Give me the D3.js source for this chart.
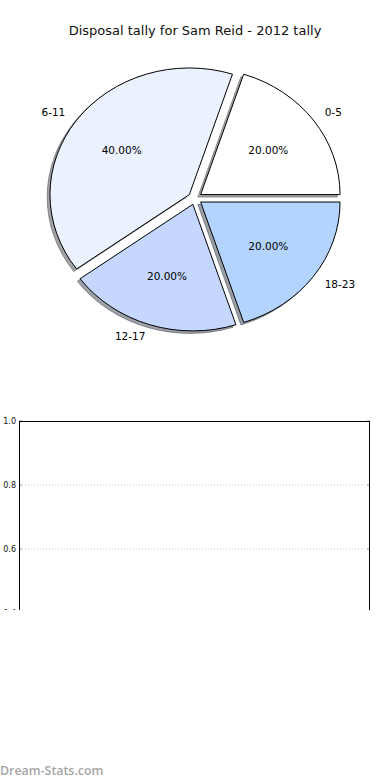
<!DOCTYPE html>
<html><head><meta charset="utf-8">
<script src="https://cdn.jsdelivr.net/npm/d3@7"></script>
<style>
html,body{margin:0;padding:0;background:#fff;}
svg{display:block;font-family:"DejaVu Sans",sans-serif;}
</style></head>
<body><svg id="c" width="390" height="780"></svg>
<script>
const title = "Disposal tally for Sam Reid - 2012 tally";
const categories = ["0-5", "6-11", "12-17", "18-23"];
const values = [20, 40, 20, 20];
const colors = ["#ffffff", "#ebf1ff", "#c6d7ff", "#b3d4ff"];
const yTicks = [0.4, 0.6, 0.8, 1.0];
const watermark = "Dream-Stats.com";

const svg = d3.select("#c");
const W = 390;

svg.append("text").attr("x", 195).attr("y", 35).attr("text-anchor", "middle")
  .attr("font-size", 13).attr("fill", "#111").text(title);

// pie (elliptical, matplotlib-like)
const cx = 195, cy = 198.3, rx = 139.4, ry = 126.6, explode = 0.05;
const pie = d3.pie().sort(null).value(d => d).startAngle(Math.PI / 2).endAngle(Math.PI / 2 - 2 * Math.PI);
const arcs = pie(values);
const arcGen = d3.arc().innerRadius(0).outerRadius(rx);
const total = d3.sum(values);

const g = svg.append("g");
function mplMid(a) { // d3 angle -> matplotlib angle
  const m = (a.startAngle + a.endAngle) / 2;
  return Math.PI / 2 - m;
}
const sx = 1, sy = ry / rx;

arcs.forEach((a, i) => {
  const m = mplMid(a);
  const ox = cx + explode * rx * Math.cos(m);
  const oy = cy - explode * ry * Math.sin(m);
  const c = d3.color(colors[i]);
  const sh = d3.rgb(c.r * 0.3, c.g * 0.3, c.b * 0.3);
  g.append("path").attr("d", arcGen(a))
    .attr("transform", `translate(${ox - 2.8},${oy + 2.5}) scale(${sx},${sy})`)
    .attr("fill", sh).attr("fill-opacity", 0.5)
    .attr("stroke", sh).attr("stroke-opacity", 0.5).attr("stroke-width", 1)
    .attr("vector-effect", "non-scaling-stroke");
});
arcs.forEach((a, i) => {
  const m = mplMid(a);
  const ox = cx + explode * rx * Math.cos(m);
  const oy = cy - explode * ry * Math.sin(m);
  g.append("path").attr("d", arcGen(a))
    .attr("transform", `translate(${ox},${oy}) scale(${sx},${sy})`)
    .attr("fill", colors[i]).attr("stroke", "#000").attr("stroke-width", 1)
    .attr("vector-effect", "non-scaling-stroke");
});
arcs.forEach((a, i) => {
  const m = mplMid(a);
  const ox = cx + explode * rx * Math.cos(m);
  const oy = cy - explode * ry * Math.sin(m);
  const lx = ox + 1.1 * rx * Math.cos(m), ly = oy - 1.1 * ry * Math.sin(m);
  g.append("text").attr("x", lx).attr("y", ly).attr("dy", "0.35em")
    .attr("text-anchor", Math.cos(m) > 0 ? "start" : "end")
    .attr("font-size", 10.5).attr("fill", "#000").text(categories[i]);
  const px = ox + 0.6 * rx * Math.cos(m), py = oy - 0.6 * ry * Math.sin(m);
  g.append("text").attr("x", px).attr("y", py).attr("dy", "0.35em")
    .attr("text-anchor", "middle").attr("font-size", 10.5).attr("fill", "#000")
    .text((values[i] / total * 100).toFixed(2) + "%");
});

// second (cropped) axes
const defs = svg.append("defs");
defs.append("clipPath").attr("id", "crop").append("rect").attr("x", 0).attr("y", 0).attr("width", W).attr("height", 610);
const ax = svg.append("g").attr("clip-path", "url(#crop)");
const x0 = 19, x1 = 370;
const y = d3.scaleLinear().domain([0, 1]).range([741, 421]);
yTicks.forEach(t => {
  if (t < 1) {
    ax.append("line").attr("x1", x0).attr("x2", x1).attr("y1", y(t)).attr("y2", y(t))
      .attr("stroke", "#c8c8c8").attr("stroke-width", 1).attr("stroke-dasharray", "1,2");
  }
  ax.append("line").attr("x1", x0).attr("x2", x0 + 3).attr("y1", y(t)).attr("y2", y(t)).attr("stroke", "#999");
  ax.append("line").attr("x1", x1 - 3).attr("x2", x1).attr("y1", y(t)).attr("y2", y(t)).attr("stroke", "#999");
});
const yAxis = d3.axisLeft(y).tickValues(yTicks).tickFormat(d3.format(".1f")).tickSize(0).tickPadding(3);
const ya = ax.append("g").attr("transform", `translate(${x0},0)`).call(yAxis);
ya.select(".domain").remove();
ya.selectAll("text").attr("font-size", 8).attr("fill", "#111").attr("font-family", "DejaVu Sans");
ax.append("rect").attr("x", x0 + 0.5).attr("y", 421.5).attr("width", x1 - x0 - 1).attr("height", 320)
  .attr("fill", "none").attr("stroke", "#000").attr("stroke-width", 1);

svg.append("text").attr("x", 0).attr("y", 775).attr("font-size", 12.4)
  .attr("font-family", "Open Sans, sans-serif").attr("font-weight", 600)
  .attr("fill", "#a6a6a6").text(watermark);
</script></body></html>
